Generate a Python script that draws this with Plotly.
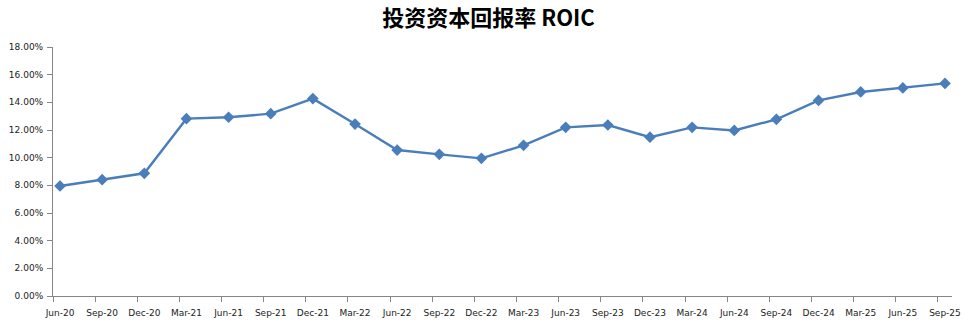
import plotly.graph_objects as go

categories = ["Jun-20", "Sep-20", "Dec-20", "Mar-21", "Jun-21", "Sep-21", "Dec-21",
              "Mar-22", "Jun-22", "Sep-22", "Dec-22", "Mar-23", "Jun-23", "Sep-23",
              "Dec-23", "Mar-24", "Jun-24", "Sep-24", "Dec-24", "Mar-25", "Jun-25", "Sep-25"]
roic = [7.95, 8.41, 8.87, 12.82, 12.92, 13.18, 14.27,
        12.43, 10.55, 10.24, 9.95, 10.89, 12.19, 12.36,
        11.48, 12.19, 11.97, 12.77, 14.14, 14.75, 15.04, 15.37]
y_ticks = [0, 2, 4, 6, 8, 10, 12, 14, 16, 18]
title = "投资资本回报率 ROIC"

# monthly date axis: each quarter spans 3 months, point at middle of its month
xpos = [i * 3 + 0.5 for i in range(len(categories))]
minor_ticks = [i * 3 for i in range(len(categories))]
n_months = len(categories) * 3 - 2  # Jun-20 .. Sep-25 -> 64 months

fig = go.Figure()
fig.add_trace(go.Scatter(
    x=xpos, y=roic, mode="lines+markers",
    line=dict(color="#4A7EBB", width=2.4),
    marker=dict(symbol="diamond", size=9, color="#4A7EBB"),
    hoverinfo="skip",
))

axis_font = dict(family="DejaVu Sans", size=9, color="#222222")
fig.update_layout(
    width=977, height=327,
    margin=dict(l=53, r=25, t=47, b=31, autoexpand=False),
    paper_bgcolor="white", plot_bgcolor="white",
    showlegend=False,
    title=dict(text=f"<b>{title}</b>", x=0.5, xanchor="center", y=0.945, yanchor="middle",
               font=dict(family="Noto Sans CJK SC", size=22, color="#000000")),
    xaxis=dict(
        range=[0, n_months], showgrid=False, zeroline=False, automargin=False,
        showline=True, linecolor="#868686", linewidth=1,
        tickmode="array", tickvals=xpos, ticktext=categories,
        ticks="", tickfont=axis_font, ticklabelstandoff=8,
        minor=dict(tickvals=minor_ticks, ticks="outside", ticklen=5, tickcolor="#868686", showgrid=False),
    ),
    yaxis=dict(
        range=[0, 18], showgrid=False, zeroline=False, automargin=False,
        showline=True, linecolor="#868686", linewidth=1,
        tickmode="array", tickvals=y_ticks,
        ticktext=[f"{v:.2f}%" for v in y_ticks],
        ticks="outside", ticklen=5, tickcolor="#868686", tickfont=axis_font,
        ticklabelstandoff=2,
    ),
)

fig.write_html("out.html")
